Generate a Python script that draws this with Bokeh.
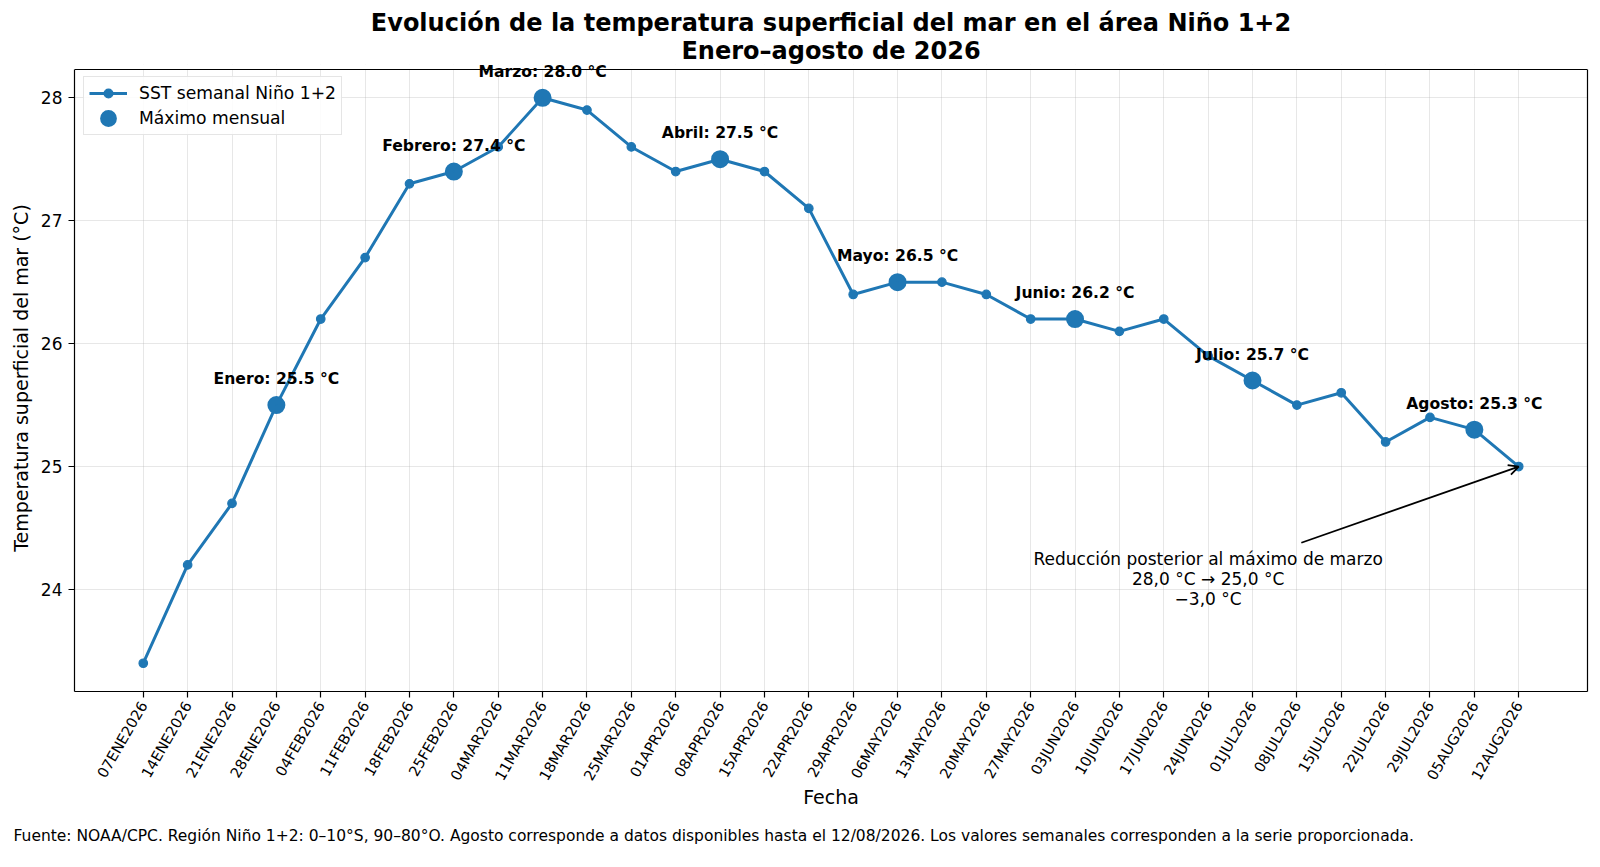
import math
from bokeh.plotting import figure
from bokeh.models import (Range1d, FixedTicker, Title, Legend, LegendItem, Arrow, OpenHead,
                          ColumnDataSource, LabelSet, LinearAxis, Span, BoxAnnotation)
from bokeh.core.properties import value
from bokeh.embed import file_html
from bokeh.resources import INLINE

# ---------------- data ----------------
fechas = ["07ENE2026", "14ENE2026", "21ENE2026", "28ENE2026", "04FEB2026", "11FEB2026",
          "18FEB2026", "25FEB2026", "04MAR2026", "11MAR2026", "18MAR2026", "25MAR2026",
          "01APR2026", "08APR2026", "15APR2026", "22APR2026", "29APR2026", "06MAY2026",
          "13MAY2026", "20MAY2026", "27MAY2026", "03JUN2026", "10JUN2026", "17JUN2026",
          "24JUN2026", "01JUL2026", "08JUL2026", "15JUL2026", "22JUL2026", "29JUL2026",
          "05AUG2026", "12AUG2026"]
sst = [23.4, 24.2, 24.7, 25.5, 26.2, 26.7, 27.3, 27.4, 27.6, 28.0, 27.9, 27.6,
       27.4, 27.5, 27.4, 27.1, 26.4, 26.5, 26.5, 26.4, 26.2, 26.2, 26.1, 26.2,
       25.9, 25.7, 25.5, 25.6, 25.2, 25.4, 25.3, 25.0]
codigos_mes = ["ENE", "FEB", "MAR", "APR", "MAY", "JUN", "JUL", "AUG"]
nombres_mes = ["Enero", "Febrero", "Marzo", "Abril", "Mayo", "Junio", "Julio", "Agosto"]
y_ticks = [24, 25, 26, 27, 28]

titulo_1 = "Evolución de la temperatura superficial del mar en el área Niño 1+2"
titulo_2 = "Enero–agosto de 2026"
fuente = ("Fuente: NOAA/CPC. Región Niño 1+2: 0–10°S, 90–80°O. Agosto corresponde a datos "
          "disponibles hasta el 12/08/2026. Los valores semanales corresponden a la serie proporcionada.")
nota_lineas = ["Reducción posterior al máximo de marzo", "28,0 °C → 25,0 °C", "−3,0 °C"]
nota_x = 24.0
nota_y = 24.245
flecha_inicio = (26.1, 24.38)

# ---------------- derived ----------------
x = list(range(len(fechas)))
max_x, max_y, max_lbl = [], [], []
for cod, nom in zip(codigos_mes, nombres_mes):
    idx = [i for i, f in enumerate(fechas) if f[2:5] == cod]
    best = idx[0]
    for i in idx:
        if sst[i] > sst[best]:
            best = i
    max_x.append(best)
    max_y.append(sst[best])
    max_lbl.append(f"{nom}: {sst[best]:.1f} °C")

FONT = "DejaVu Sans"
BLUE = "#1f77b4"
W, H = 1592, 859
BORDER_L, BORDER_R, BORDER_T, BORDER_B = 74, 5, 64, 168
EXTRA_TOP = 5                      # frame space above the axes box (room for the "Marzo" label)
BOX_H = H - BORDER_T - BORDER_B - EXTRA_TOP

xpad = (len(x) - 1) * 0.05
ypad = (max(sst) - min(sst)) * 0.05
ylo, yhi_box = min(sst) - ypad, max(sst) + ypad
ytop = yhi_box + EXTRA_TOP * (yhi_box - ylo) / BOX_H

p = figure(width=W, height=H, output_backend="svg", toolbar_location=None,
           x_range=Range1d(-xpad, len(x) - 1 + xpad), y_range=Range1d(ylo, ytop),
           min_border_left=BORDER_L, min_border_right=BORDER_R, min_border_top=BORDER_T,
           min_border_bottom=BORDER_B, background_fill_color="white",
           border_fill_color="white", outline_line_color=None)
p.title.text = ""

p.add_layout(Title(text=titulo_2, align="center", text_font=FONT, text_font_size="24px",
                   text_font_style="bold", text_color="black", standoff=0), "above")
p.add_layout(Title(text=titulo_1, align="center", text_font=FONT, text_font_size="24px",
                   text_font_style="bold", text_color="black", standoff=-5), "above")

p.grid.grid_line_color = "#b0b0b0"
p.grid.grid_line_alpha = 0.3
p.grid.grid_line_width = 1

# hide grid above the axes box and draw the box's top edge
p.add_layout(BoxAnnotation(bottom=yhi_box, fill_color="white", fill_alpha=1.0,
                           line_color=None, level="underlay"))
p.add_layout(Span(location=yhi_box, dimension="width", line_color="black",
                  line_width=1.2, level="underlay"))

src = ColumnDataSource(dict(x=x, y=sst))
line_r = p.line("x", "y", source=src, line_color=BLUE, line_width=3)
pts_r = p.scatter("x", "y", source=src, size=8.5, fill_color=BLUE, line_color=BLUE,
                  line_width=1.2)
msrc = ColumnDataSource(dict(x=max_x, y=max_y, t=max_lbl))
max_r = p.scatter("x", "y", source=msrc, size=10, fill_color=BLUE, line_color=BLUE,
                  line_width=8)
p.add_layout(LabelSet(x="x", y="y", text="t", source=msrc, text_align="center",
                      text_baseline="alphabetic", y_offset=21, text_font=value(FONT),
                      text_font_size=value("15.6px"), text_font_style="bold",
                      text_color="black"))

# annotation
nsrc = ColumnDataSource(dict(x=[nota_x] * 3, y=[nota_y] * 3, t=nota_lineas,
                             yo=[0, 20, 40]))
p.text("x", "y", text="t", source=nsrc, y_offset="yo", text_align="center",
       text_baseline="alphabetic", text_font=value(FONT), text_font_size="17px",
       text_color="black")
p.add_layout(Arrow(end=OpenHead(size=10, line_width=1.8, line_color="black"),
                   x_start=flecha_inicio[0], y_start=flecha_inicio[1],
                   x_end=x[-1], y_end=sst[-1], line_color="black", line_width=1.8))

# axes
xa = p.xaxis[0]
ya = p.yaxis[0]
xa.ticker = FixedTicker(ticks=x)
xa.major_label_overrides = {i: f for i, f in enumerate(fechas)}
xa.major_label_orientation = math.pi / 3
xa.major_label_text_font_size = "14.6px"
ya.ticker = FixedTicker(ticks=y_ticks)
ya.major_label_text_font_size = "17px"
ya.bounds = (ylo, yhi_box)
for ax in (xa, ya):
    ax.major_label_text_font = FONT
    ax.major_label_text_color = "black"
    ax.axis_label_text_font = FONT
    ax.axis_label_text_font_size = "19px"
    ax.axis_label_text_font_style = "normal"
    ax.axis_label_text_color = "black"
    ax.axis_line_color = "black"
    ax.axis_line_width = 1.2
    ax.major_tick_line_color = "black"
    ax.major_tick_line_width = 1.2
    ax.major_tick_in = 0
    ax.major_tick_out = 6
    ax.minor_tick_line_color = None
xa.axis_label = "Fecha"
ya.axis_label = "Temperatura superficial del mar (°C)"
xa.major_label_standoff = 5
ya.major_label_standoff = 6
xa.axis_label_standoff = -5
ya.axis_label_standoff = 6

# right edge of the axes box
p.add_layout(LinearAxis(ticker=FixedTicker(ticks=[]), bounds=(ylo, yhi_box),
                        axis_line_color="black", axis_line_width=1.2,
                        major_tick_line_color=None, minor_tick_line_color=None,
                        major_label_standoff=0, major_label_text_font_size="0px"), "right")

p.add_layout(Title(text=fuente, align="left", offset=-61, text_font=FONT,
                   text_font_size="15.5px", text_font_style="normal", text_color="black",
                   standoff=29), "below")

legend = Legend(items=[LegendItem(label="SST semanal Niño 1+2", renderers=[line_r, pts_r]),
                       LegendItem(label="Máximo mensual", renderers=[max_r])],
                location=(9, 556), label_text_font=FONT, label_text_font_size="17.2px",
                label_text_color="black", glyph_width=38, glyph_height=22, label_height=22,
                spacing=3, padding=5, margin=0, border_line_color="#cccccc",
                border_line_width=1, background_fill_alpha=0.85, label_standoff=12)
p.add_layout(legend)

open("out.html", "w").write(file_html(p, INLINE))
